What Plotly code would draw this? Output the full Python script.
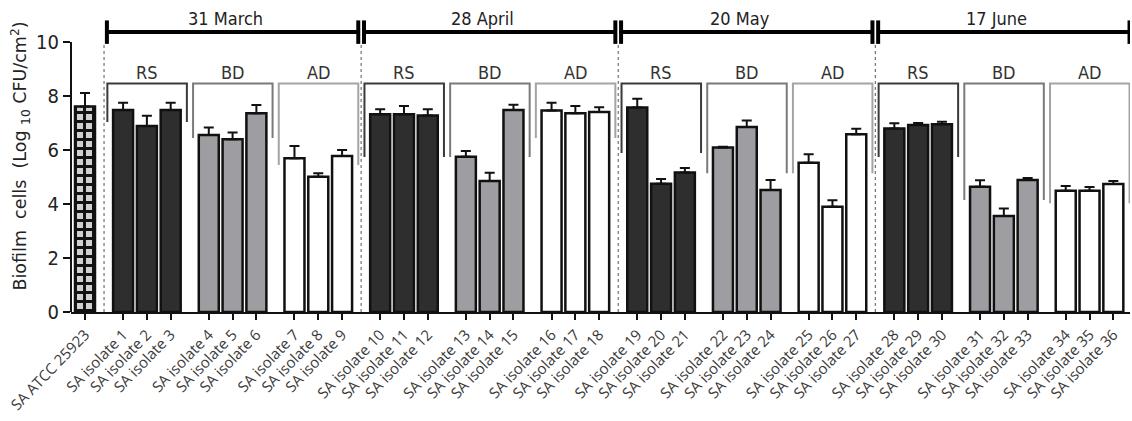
import plotly.graph_objects as go

# ---- data -------------------------------------------------------------
reference_label = "SA ATCC 25923"
reference_value = 7.61
reference_error = 0.50

dates = ["31 March", "28 April", "20 May", "17 June"]
group_names = ["RS", "BD", "AD"]

isolate_labels = [f"SA isolate {i}" for i in range(1, 37)]

# mean biofilm cells (log10 CFU/cm2), isolates 1..36
isolate_values = [
    7.48, 6.89, 7.48,  6.56, 6.40, 7.36,  5.69, 5.01, 5.78,
    7.32, 7.32, 7.28,  5.75, 4.85, 7.48,  7.46, 7.36, 7.41,
    7.57, 4.75, 5.17,  6.09, 6.85, 4.52,  5.53, 3.90, 6.58,
    6.80, 6.93, 6.95,  4.64, 3.56, 4.89,  4.49, 4.49, 4.74,
]
# upper standard deviation
isolate_errors = [
    0.27, 0.38, 0.27,  0.27, 0.25, 0.31,  0.46, 0.13, 0.22,
    0.19, 0.31, 0.23,  0.21, 0.31, 0.20,  0.29, 0.27, 0.17,
    0.33, 0.18, 0.16,  0.03, 0.24, 0.37,  0.31, 0.24, 0.21,
    0.19, 0.07, 0.10,  0.24, 0.27, 0.07,  0.18, 0.14, 0.11,
]

# ---- layout constants -----------------------------------------------
PITCH, GAP = 1.0, 1.6
BAR_W = 0.84
group_fill = {"RS": "#2e2e2e", "BD": "#9e9ea2", "AD": "#ffffff"}
bracket_color = {"RS": "#3a3a3a", "BD": "#7a7a7a", "AD": "#a4a4a4"}
# lower ends of the bracket legs for each of the 12 sample groups
bracket_leg_bottom = [7.04, 6.44, 5.44, 5.74, 5.74, 6.44,
                      5.89, 5.14, 5.14, 5.74, 4.15, 4.03]
BRACKET_TOP = 8.46
NARROW = ("Liberation Sans Narrow, DejaVu Sans Condensed, Roboto Condensed, "
          "Arial Narrow, Liberation Sans, sans-serif")

# x positions: reference bar at 0, then 12 groups of three bars
x_ref = 0.0
x_iso = []
for g in range(12):
    start = GAP + g * (2 * PITCH + GAP)
    x_iso += [start + k * PITCH for k in range(3)]

fig = go.Figure()


def upper_error(values):
    return dict(type="data", symmetric=False, array=values,
                arrayminus=[0] * len(values),
                color="#111111", thickness=2, width=5)


fig.add_trace(go.Bar(
    x=[x_ref], y=[reference_value], width=BAR_W,
    marker=dict(color="#111111", line=dict(color="#111111", width=2.5),
                pattern=dict(shape="+", fgcolor="#111111", bgcolor="#d0d0d0",
                             size=9, solidity=0.55, fillmode="replace")),
    error_y=upper_error([reference_error]),
    showlegend=False, hoverinfo="skip",
))

for gi, name in enumerate(group_names):
    idx = [i for i in range(36) if (i // 3) % 3 == gi]
    fig.add_trace(go.Bar(
        x=[x_iso[i] for i in idx],
        y=[isolate_values[i] for i in idx],
        width=BAR_W,
        marker=dict(color=group_fill[name], line=dict(color="#111111", width=2.5)),
        error_y=upper_error([isolate_errors[i] for i in idx]),
        showlegend=False, hoverinfo="skip",
    ))

shapes = []
annotations = []

# y axis line (only up to 10)
shapes.append(dict(type="line", xref="paper", yref="y", x0=0, x1=0, y0=0, y1=10,
                   line=dict(color="#111111", width=2), layer="above"))

# dotted separators between sampling dates, and date brackets
bounds = [x_ref + (x_iso[0] - x_ref) / 2]
for d in range(4):
    last = x_iso[9 * d + 8]
    bounds.append(last + GAP / 2)
for b in bounds[:-1]:
    shapes.append(dict(type="line", xref="x", yref="y", x0=b, x1=b, y0=0, y1=9.95,
                       line=dict(color="#555555", width=1, dash="dot")))
for d, label in enumerate(dates):
    x0, x1 = bounds[d] + 0.12, bounds[d + 1] - 0.12
    shapes.append(dict(type="line", xref="x", yref="y", x0=x0, x1=x1, y0=10.37, y1=10.37,
                       line=dict(color="#000000", width=4)))
    for xc in (x0, x1):
        shapes.append(dict(type="line", xref="x", yref="y", x0=xc, x1=xc, y0=9.93, y1=10.8,
                           line=dict(color="#000000", width=4)))
    annotations.append(dict(x=(x0 + x1) / 2 - 0.3, y=10.86, xref="x", yref="y",
                            text=label, showarrow=False,
                            font=dict(family=NARROW, size=18, color="#222222")))

# RS / BD / AD brackets above each group of three isolates
for g in range(12):
    name = group_names[g % 3]
    xa = x_iso[3 * g] - 0.66
    xb = x_iso[3 * g + 2] + 0.68
    yb = bracket_leg_bottom[g]
    shapes.append(dict(type="path", xref="x", yref="y",
                       path=f"M {xa},{yb} L {xa},{BRACKET_TOP} L {xb},{BRACKET_TOP} L {xb},{yb}",
                       line=dict(color=bracket_color[name], width=2)))
    annotations.append(dict(x=(xa + xb) / 2, y=8.86, xref="x", yref="y",
                            text=name, showarrow=False,
                            font=dict(family=NARROW, size=18, color="#333333")))

fig.update_layout(
    width=1132, height=421,
    margin=dict(l=71, r=2, t=0, b=109),
    paper_bgcolor="white", plot_bgcolor="white",
    barmode="overlay",
    shapes=shapes, annotations=annotations,
    xaxis=dict(
        range=[-0.588, 43.9],
        tickmode="array",
        tickvals=[x_ref] + x_iso,
        ticktext=[reference_label] + isolate_labels,
        tickangle=-46,
        tickfont=dict(family="Open Sans, Liberation Sans, sans-serif", size=15, color="#3a3a3a"),
        ticks="outside", ticklen=6, tickwidth=2, tickcolor="#111111",
        showline=True, linewidth=2, linecolor="#111111",
        showgrid=False, zeroline=False,
    ),
    yaxis=dict(
        range=[0, 312 / 27],
        tickmode="array", tickvals=[0, 2, 4, 6, 8, 10],
        ticks="outside", ticklen=7, tickwidth=2, tickcolor="#111111",
        tickfont=dict(family=NARROW, size=20, color="#222222"),
        showline=False, showgrid=False, zeroline=False,
        title=dict(text="Biofilm  cells  (Log <sub>10</sub> CFU/cm<sup>2</sup>)",
                   font=dict(family="DejaVu Sans, sans-serif", size=17.5, color="#222222"),
                   standoff=4),
    ),
)

fig.write_html("out.html")
